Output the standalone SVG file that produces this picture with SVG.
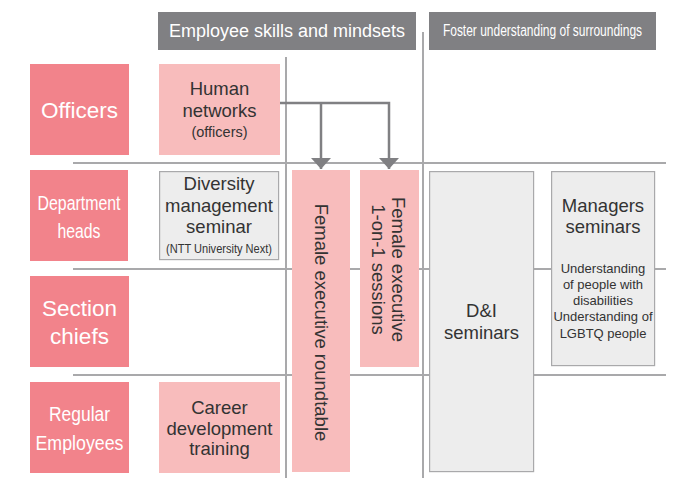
<svg xmlns="http://www.w3.org/2000/svg" width="680" height="478" viewBox="0 0 680 478">
<defs>
<style>
text{font-family:"Liberation Sans",Arial,sans-serif;text-anchor:middle}
.grid{stroke:#a9a9ab;stroke-width:2;fill:none}
.hdr{fill:#808083}
.hdrt{fill:#fff;font-size:18px}
.hdrn{fill:#fff;font-size:16px}
.lvl{fill:#f2838b}
.lvlt{fill:#fff;font-size:22.5px}
.lvln{fill:#fff;font-size:20.5px}
.pk{fill:#f8bcbc}
.gy{fill:#ededed;stroke:#a9a9ab;stroke-width:1.2}
.t{fill:#333;font-size:18.5px}
.p{fill:#333;font-size:14.5px}
.n{fill:#333;font-size:12px}
.s{fill:#333;font-size:13px}
.conn{stroke:#808083;stroke-width:2.5;fill:none}
</style>
<marker id="ah" viewBox="0 0 10 10" refX="10" refY="5" markerWidth="4.4" markerHeight="8" markerUnits="strokeWidth" orient="auto" preserveAspectRatio="none">
<path d="M0,0 L10,5 L0,10 Z" fill="#808083"/>
</marker>
</defs>
<g id="grid">
<line class="grid" x1="73" y1="163" x2="666" y2="163"/>
<line class="grid" x1="73" y1="269" x2="666" y2="269"/>
<line class="grid" x1="73" y1="375" x2="666" y2="375"/>
<line class="grid" x1="286" y1="57" x2="286" y2="478"/>
<line class="grid" x1="423" y1="32" x2="423" y2="478"/>
</g>
<g id="header1"><rect class="hdr" x="158" y="12" width="258" height="38"/><text class="hdrt" x="287" y="37" textLength="236" lengthAdjust="spacingAndGlyphs">Employee skills and mindsets</text></g>
<g id="header2"><rect class="hdr" x="429" y="12" width="227" height="38"/><text class="hdrn" transform="translate(542.5,36) scale(0.75,1)">Foster understanding of surroundings</text></g>
<g id="officers"><rect class="lvl" x="30" y="64" width="99" height="91"/><text class="lvlt" x="79.5" y="118">Officers</text></g>
<g id="depthead"><rect class="lvl" x="30" y="170" width="98" height="91"/><text class="lvln" x="79" y="209.5" textLength="83" lengthAdjust="spacingAndGlyphs">Department</text><text class="lvln" x="79" y="238" textLength="43" lengthAdjust="spacingAndGlyphs">heads</text></g>
<g id="section"><rect class="lvl" x="30" y="276" width="99" height="91"/><text class="lvlt" x="79.5" y="316">Section</text><text class="lvlt" x="79.5" y="344">chiefs</text></g>
<g id="regular"><rect class="lvl" x="30" y="382" width="99" height="91"/><text class="lvln" x="79.5" y="420.5" textLength="61" lengthAdjust="spacingAndGlyphs">Regular</text><text class="lvln" x="79.5" y="449.5" textLength="88" lengthAdjust="spacingAndGlyphs">Employees</text></g>
<g id="human"><rect class="pk" x="159" y="64" width="121" height="91"/><text class="t" x="219.5" y="95">Human</text><text class="t" x="219.5" y="117">networks</text><text class="p" x="219.5" y="137">(officers)</text></g>
<g id="diversity"><rect class="gy" x="159.6" y="171.6" width="119" height="88"/><text class="t" x="219" y="190">Diversity</text><text class="t" x="219" y="211.5">management</text><text class="t" x="219" y="233">seminar</text><text class="n" x="219" y="252.5" textLength="106" lengthAdjust="spacingAndGlyphs">(NTT University Next)</text></g>
<g id="career"><rect class="pk" x="159" y="382" width="121" height="91"/><text class="t" x="219.5" y="413.5">Career</text><text class="t" x="219.5" y="434.5">development</text><text class="t" x="219.5" y="455">training</text></g>
<g id="roundtable"><rect class="pk" x="292" y="170" width="58" height="302"/><text class="t" transform="translate(314.5,322.5) rotate(90)">Female executive roundtable</text></g>
<g id="oneonone"><rect class="pk" x="360" y="170" width="59" height="197"/><text class="t" transform="translate(391.5,269.5) rotate(90)">Female executive</text><text class="t" transform="translate(371.5,269.5) rotate(90)">1-on-1 sessions</text></g>
<g id="dni"><rect class="gy" x="429.6" y="171.6" width="104" height="300"/><text class="t" x="481.5" y="317">D&amp;I</text><text class="t" x="481.5" y="338.5">seminars</text></g>
<g id="managers"><rect class="gy" x="551.6" y="171.6" width="103" height="194"/><text class="t" x="603" y="211.5">Managers</text><text class="t" x="603" y="232.5">seminars</text><text class="s" x="603" y="272.5">Understanding</text><text class="s" x="603" y="289">of people with</text><text class="s" x="603" y="305">disabilities</text><text class="s" x="603" y="321">Understanding of</text><text class="s" x="603" y="337.5">LGBTQ people</text></g>
<g id="connectors">
<polyline class="conn" points="280,103 389,103 389,169" marker-end="url(#ah)"/>
<polyline class="conn" points="321,103 321,169" marker-end="url(#ah)"/>
</g>
</svg>
